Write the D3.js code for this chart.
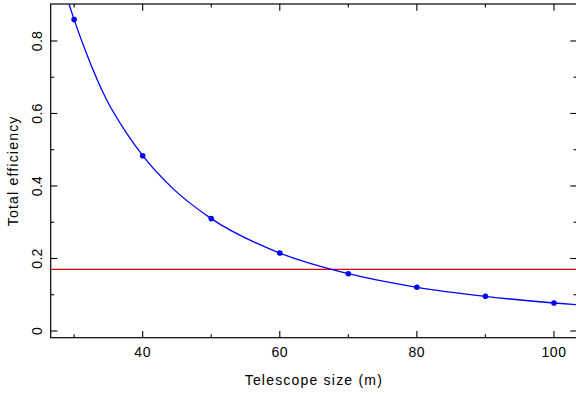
<!DOCTYPE html>
<html>
<head>
<meta charset="utf-8">
<script src="https://cdn.jsdelivr.net/npm/d3@7"></script>
<style>
  body { margin: 0; background: white; }
  svg { display: block; font-family: "Liberation Sans", Arial, sans-serif; }
</style>
</head>
<body>
<svg id="chart" width="576" height="394"></svg>
<script>
// telescope size (m) of the computed designs
const sizes = [30, 40, 50, 60, 70, 80, 90, 100]
// total efficiency for each size
const efficiency = [0.859, 0.4836, 0.310, 0.215, 0.158, 0.1206, 0.0957, 0.0772]
// extra positions (size, efficiency)
const curveRead = [
    [29.25, 0.902], [31.83, 0.764], [34.75, 0.637], [37.67, 0.545],
    [44.46, 0.392], [103.36, 0.0726]
]
// horizontal reference level
const threshold = 0.17

const xMajor = [40, 60, 80, 100]
const xMinor = [30, 50, 70, 90]
const yMajor = [0, 0.2, 0.4, 0.6, 0.8]
const yMinor = [0.1, 0.3, 0.5, 0.7]

const pLeft = 50.7, pRight = 577, pTop = 4, pBottom = 337.7
const majorLen = 6.7, minorLen = 3.4

const x = d3.scaleLinear().domain([26.58, 103.36]).range([pLeft, pRight])
const y = d3.scaleLinear().domain([-0.0185, 0.902]).range([pBottom, pTop])

const svg = d3.select('#chart')

svg.append('defs').append('clipPath').attr('id', 'plot')
    .append('rect')
    .attr('x', pLeft).attr('y', pTop)
    .attr('width', pRight - pLeft).attr('height', pBottom - pTop)

// frame
svg.append('rect')
    .attr('x', pLeft).attr('y', pTop)
    .attr('width', pRight - pLeft).attr('height', pBottom - pTop)
    .attr('fill', 'none')
    .attr('stroke', '#000')
    .attr('stroke-width', 1.2)

// ticks on all four sides, pointing inwards
const ticks = svg.append('g').attr('stroke', '#000').attr('stroke-width', 1.1)
const xt = xMajor.map(v => [v, majorLen]).concat(xMinor.map(v => [v, minorLen]))
const yt = yMajor.map(v => [v, majorLen]).concat(yMinor.map(v => [v, minorLen]))
ticks.append('g').selectAll('line').data(xt).join('line')
    .attr('x1', d => x(d[0])).attr('x2', d => x(d[0]))
    .attr('y1', pBottom).attr('y2', d => pBottom - d[1])
ticks.append('g').selectAll('line').data(xt).join('line')
    .attr('x1', d => x(d[0])).attr('x2', d => x(d[0]))
    .attr('y1', pTop).attr('y2', d => pTop + d[1])
ticks.append('g').selectAll('line').data(yt).join('line')
    .attr('y1', d => y(d[0])).attr('y2', d => y(d[0]))
    .attr('x1', pLeft).attr('x2', d => pLeft + d[1])
ticks.append('g').selectAll('line').data(yt).join('line')
    .attr('y1', d => y(d[0])).attr('y2', d => y(d[0]))
    .attr('x1', pRight).attr('x2', d => pRight - d[1])

// tick labels
svg.append('g')
    .attr('font-size', 14).attr('letter-spacing', 0.6).attr('fill', '#000')
    .selectAll('text').data(xMajor).join('text')
    .attr('x', d => x(d)).attr('y', 357.3)
    .attr('text-anchor', 'middle')
    .text(d => d)

svg.append('g')
    .attr('font-size', 14).attr('letter-spacing', 0.3).attr('fill', '#000')
    .selectAll('text').data(yMajor).join('text')
    .attr('transform', d => `translate(42.3,${y(d)}) rotate(-90)`)
    .attr('text-anchor', 'middle')
    .text(d => d)

// axis titles
svg.append('text')
    .attr('x', (pLeft + pRight) / 2).attr('y', 385)
    .attr('text-anchor', 'middle')
    .attr('font-size', 14).attr('letter-spacing', 1.2)
    .text('Telescope size (m)')

svg.append('text')
    .attr('transform', `translate(18.3,${(pTop + pBottom) / 2}) rotate(-90)`)
    .attr('text-anchor', 'middle')
    .attr('font-size', 14).attr('letter-spacing', 1.2)
    .text('Total efficiency')

const plot = svg.append('g').attr('clip-path', 'url(#plot)')

// reference level
plot.append('line')
    .attr('x1', pLeft).attr('x2', pRight)
    .attr('y1', y(threshold)).attr('y2', y(threshold))
    .attr('stroke', '#e00000')
    .attr('stroke-width', 1.2)

// curve through the points
const pts = sizes.map((s, i) => [s, efficiency[i]])
const curvePts = pts.concat(curveRead).sort((a, b) => a[0] - b[0])
const line = d3.line().x(d => x(d[0])).y(d => y(d[1])).curve(d3.curveMonotoneX)
plot.append('path')
    .attr('d', line(curvePts))
    .attr('fill', 'none')
    .attr('stroke', '#0000ff')
    .attr('stroke-width', 1.3)

plot.selectAll('circle').data(pts).join('circle')
    .attr('cx', d => x(d[0])).attr('cy', d => y(d[1]))
    .attr('r', 2.8)
    .attr('fill', '#0000ff')
</script>
</body>
</html>
